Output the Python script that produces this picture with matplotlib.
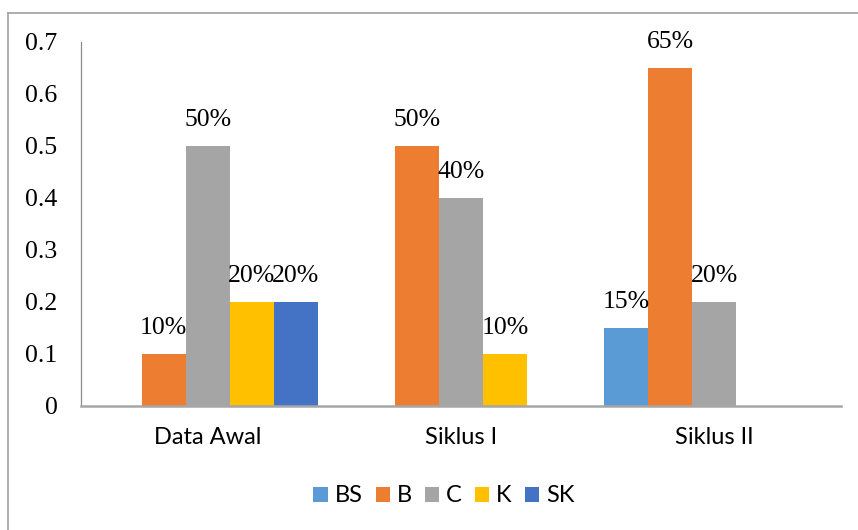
import matplotlib
matplotlib.use("Agg")
import matplotlib.pyplot as plt
import numpy as np
from matplotlib.lines import Line2D

categories = ["Data Awal", "Siklus I", "Siklus II"]
series_names = ["BS", "B", "C", "K", "SK"]
values = {
    "BS": [0.0, 0.0, 0.15],
    "B": [0.10, 0.50, 0.65],
    "C": [0.50, 0.40, 0.20],
    "K": [0.20, 0.10, 0.0],
    "SK": [0.20, 0.0, 0.0],
}
colors = {"BS": "#5B9BD5", "B": "#ED7D31", "C": "#A5A5A5", "K": "#FFC000", "SK": "#4472C4"}
yticks = [0, 0.1, 0.2, 0.3, 0.4, 0.5, 0.6, 0.7]
ytick_labels = ["0", "0.1", "0.2", "0.3", "0.4", "0.5", "0.6", "0.7"]

serif = ["Liberation Serif", "DejaVu Serif"]
sans = ["Lato", "DejaVu Sans"]

fig = plt.figure(figsize=(8.58, 5.30), dpi=100)
W, H = 858, 530
ax = fig.add_axes([81 / W, 1 - 406 / H, 760 / W, 364 / H])

x = np.arange(len(categories))
bw = 0.174
for i, s in enumerate(series_names):
    pos = x + (i - 2) * bw
    vals = values[s]
    ax.bar(pos, vals, width=bw, color=colors[s], label=s, linewidth=0)
    for p, v in zip(pos, vals):
        if v > 0:
            ax.annotate(f"{round(v * 100)}%", (p, v), xytext=(0, 18.5), textcoords="offset points",
                        ha="center", va="center", fontsize=18.5, family=serif, color="black")

ax.set_xlim(-0.5, 2.5)
ax.set_ylim(0, 0.7)
ax.set_yticks(yticks)
ax.set_yticklabels(ytick_labels, family=serif, fontsize=18.5)
ax.set_xticks(x)
ax.set_xticklabels(categories, family=sans, fontsize=17)
ax.tick_params(axis="y", length=0, pad=17)
ax.tick_params(axis="x", length=0, pad=15)
for sp in ["top", "right"]:
    ax.spines[sp].set_visible(False)
ax.spines["left"].set_color("#8C8C8C")
ax.spines["left"].set_linewidth(0.9)
ax.spines["bottom"].set_color("#A6A6A6")
ax.spines["bottom"].set_linewidth(1.8)

# outer frame (cropped at right and bottom)
fig.add_artist(Line2D([8 / W, 8 / W], [0, 1 - 13 / H], transform=fig.transFigure, color="#A0A0A0", lw=1.2))
fig.add_artist(Line2D([8 / W, 1], [1 - 13 / H, 1 - 13 / H], transform=fig.transFigure, color="#A0A0A0", lw=1.2))

leg = fig.legend(loc="center", bbox_to_anchor=(444 / W, 1 - 496 / H), ncol=5, frameon=False,
                 prop={"family": sans, "size": 17}, handlelength=0.6, handleheight=0.6,
                 handletextpad=0.3, columnspacing=0.55)

fig.savefig("out.png", dpi=100)
